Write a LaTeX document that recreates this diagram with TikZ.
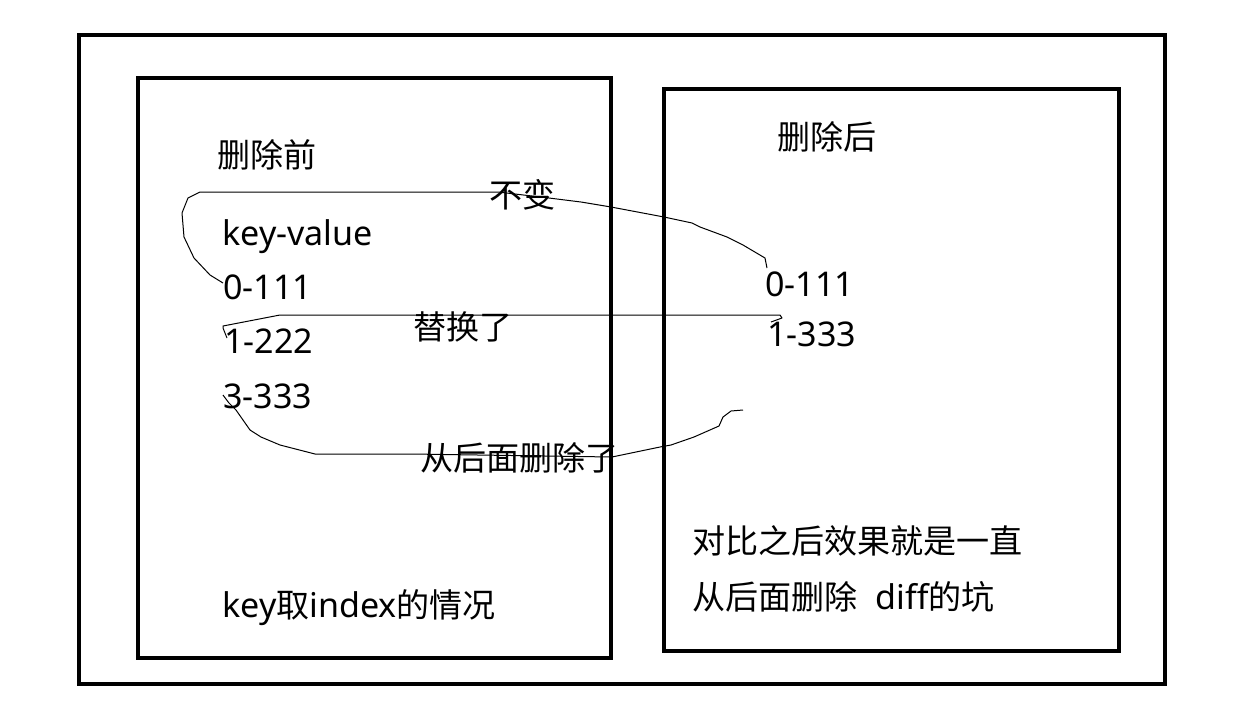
\documentclass[tikz,border=0pt]{standalone}
\usepackage{fontspec}
\setmainfont[Scale=1.03]{Noto Sans}
\newfontfamily\cjk{Noto Sans CJK SC}
\begin{document}
\begin{tikzpicture}[x=0.75pt,y=-0.75pt,
  box/.style={draw=black,line width=3pt},
  txt/.style={anchor=west,inner sep=0pt,font=\fontsize{24.8pt}{30pt}\selectfont},
  link/.style={draw=black,line width=0.75pt,line join=round}]
\useasboundingbox (0,0) rectangle (1250,704);
\fill[white] (0,0) rectangle (1250,704);
\draw[box] (79,35) rectangle (1165,684);
\draw[box] (138,78) rectangle (611,658);
\draw[box] (664,89) rectangle (1119,651);

% connectors
\coordinate (a0) at (223,283);
\coordinate (b0) at (767,268);
\draw[link] (a0) -- (210,275) -- (194,258) -- (184,237) -- (182,213) -- (188,198) -- (200,192)
  -- (498,192) -- (549,198) -- (565,200) -- (581,202) -- (611,207) -- (664,217) -- (692,223)
  -- (700,227) -- (727,237) -- (743,245) -- (765,258) -- (b0);
\coordinate (a1) at (227,338);
\coordinate (b1) at (771,322);
\draw[link] (a1) -- (223,328) -- (223,326) -- (280,315) -- (780,315) -- (782,318) -- (b1);
\coordinate (a2) at (223,395);
\coordinate (b2) at (743,410);
\draw[link] (a2) -- (229,403) -- (236,410) -- (250,430) -- (261,437) -- (280,445) -- (315,454)
  -- (411,454) -- (612,457) -- (660,447) -- (671,445) -- (694,437) -- (719,426) -- (723,417)
  -- (731,411) -- (b2);

% texts
\node[txt] (t1) at (217,155) {\cjk 删除前};
\node[txt] (t2) at (489,195) {\cjk 不变};
\node[txt] (t3) at (222,237) {key-value};
\node[txt] (t4) at (223,287) {0-111};
\node[txt] (t5) at (224,341) {1-222};
\node[txt] (t6) at (223,396) {3-333};
\node[txt] (t7) at (413,327) {\cjk 替换了};
\node[txt] (t8) at (420,458) {\cjk 从后面删除了};
\node[txt] (t9) at (777,137) {\cjk 删除后};
\node[txt] (t10) at (765,284) {0-111};
\node[txt] (t11) at (767,334) {1-333};
\node[txt] (t12) at (692,541) {\cjk 对比之后效果就是一直};
\node[txt] (t13) at (692,597) {{\cjk 从后面删除}\ \ diff{\cjk 的坑}};
\node[txt] (t14) at (222,608) {key{\cjk 取}index{\cjk 的情况}};
\end{tikzpicture}
\end{document}
